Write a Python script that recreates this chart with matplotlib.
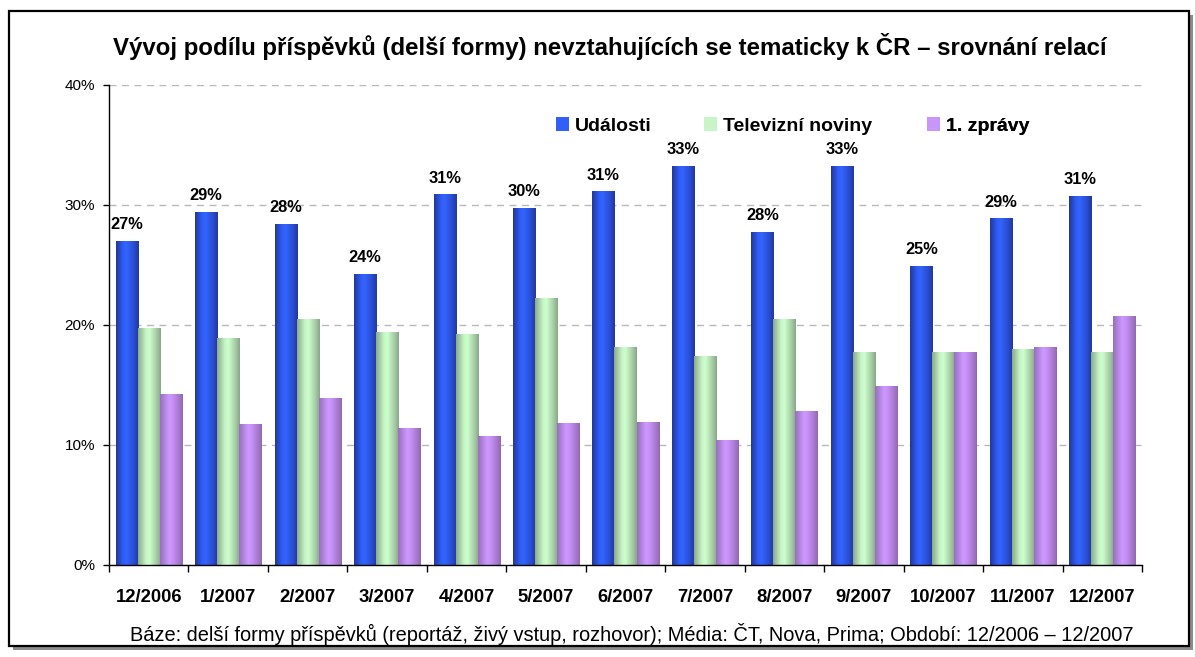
import numpy as np
import matplotlib
matplotlib.use('Agg')
import matplotlib.pyplot as plt
from matplotlib.colors import to_rgb
from matplotlib.patches import Rectangle, Patch

plt.rcParams['font.family'] = ['Liberation Sans', 'DejaVu Sans']

# ---------------- data ----------------
categories = ['12/2006', '1/2007', '2/2007', '3/2007', '4/2007', '5/2007', '6/2007',
              '7/2007', '8/2007', '9/2007', '10/2007', '11/2007', '12/2007']
udalosti = [27.0, 29.4, 28.4, 24.2, 30.85, 29.75, 31.1, 33.2, 27.75, 33.2, 24.9, 28.85, 30.75]
televizni_noviny = [19.7, 18.85, 20.5, 19.4, 19.2, 22.25, 18.1, 17.4, 20.5, 17.75, 17.75, 18.0, 17.7]
prvni_zpravy = [14.2, 11.7, 13.85, 11.4, 10.75, 11.8, 11.9, 10.4, 12.8, 14.9, 17.75, 18.1, 20.75]
series_names = ['Události', 'Televizní noviny', '1. zprávy']
yticks = [0, 10, 20, 30, 40]
ytick_labels = ['0%', '10%', '20%', '30%', '40%']
title = 'Vývoj podílu příspěvků (delší formy) nevztahujících se tematicky k ČR – srovnání relací'
footer = 'Báze: delší formy příspěvků (reportáž, živý vstup, rozhovor); Média: ČT, Nova, Prima; Období: 12/2006 – 12/2007'

# ---------------- styles ----------------
W, H = 1195, 657
mid_colors = ['#3060f8', '#c8f5c8', '#c896f8']
grad_stops = [
    [(0.0, '#22389a'), (0.3, '#2f5cf5'), (0.45, '#3366ff'), (0.75, '#2c4fd8'), (1.0, '#213a9c')],
    [(0.0, '#8aab8a'), (0.35, '#c8f5c8'), (0.5, '#ccffcc'), (0.8, '#a8cca8'), (1.0, '#88a888')],
    [(0.0, '#9870bc'), (0.4, '#cc99ff'), (0.55, '#c890f8'), (0.85, '#a478c8'), (1.0, '#9468b0')],
]


def make_grad(stops, n=64):
    pos = np.array([s[0] for s in stops])
    cols = np.array([to_rgb(s[1]) for s in stops])
    t = np.linspace(0, 1, n)
    return np.stack([np.interp(t, pos, cols[:, c]) for c in range(3)], axis=-1)


fig = plt.figure(figsize=(W / 100, H / 100), dpi=100)

# frame with shadow
fx0, fy0, fx1, fy1 = 9, 11, 1189, 646
fig.add_artist(Rectangle(((fx0 + 4) / W, 1 - (fy1 + 4) / H), (fx1 - fx0) / W, (fy1 - fy0) / H,
                         transform=fig.transFigure, facecolor='#8c8c8c', edgecolor='none', zorder=-3))
fig.add_artist(Rectangle((fx0 / W, 1 - fy1 / H), (fx1 - fx0) / W, (fy1 - fy0) / H,
                         transform=fig.transFigure, facecolor='white', edgecolor='black',
                         linewidth=1.6, zorder=-2))

ax_l, ax_r, ax_t, ax_b = 109, 1142, 85, 565
ax = fig.add_axes([ax_l / W, 1 - ax_b / H, (ax_r - ax_l) / W, (ax_b - ax_t) / H])
ax.patch.set_alpha(0)

x = np.arange(len(categories))
bw = 0.277
all_series = [udalosti, televizni_noviny, prvni_zpravy]
bar_containers = []
for i, vals in enumerate(all_series):
    bars = ax.bar(x + (i - 1) * bw, vals, bw, color=mid_colors[i], linewidth=0, zorder=3)
    bar_containers.append(bars)
    g = make_grad(grad_stops[i])[np.newaxis, :, :]
    for p in bars:
        ax.imshow(g, extent=[p.get_x(), p.get_x() + p.get_width(), 0, p.get_height()],
                  aspect='auto', zorder=3.5, interpolation='bilinear')

ax.set_xlim(-0.5, len(categories) - 0.5)
ax.set_ylim(0, 40)

# grid
ax.yaxis.grid(True, linestyle=(0, (5, 4)), color='#b8b8b8', linewidth=1)
ax.set_axisbelow(True)
for s in ['top', 'right']:
    ax.spines[s].set_visible(False)
for s in ['left', 'bottom']:
    ax.spines[s].set_color('black')
    ax.spines[s].set_linewidth(1)
    ax.spines[s].set_zorder(5)

ax.set_yticks(yticks)
ax.set_yticklabels(ytick_labels)
ax.tick_params(axis='y', direction='out', length=4, width=1, pad=6, labelsize=11)

ax.set_xticks(x)
ax.set_xticklabels(categories, fontweight='bold')
ax.tick_params(axis='x', which='major', length=0, pad=17.5, labelsize=13.3)
ax.set_xticks(np.arange(-0.5, len(categories), 1), minor=True)
ax.tick_params(axis='x', which='minor', direction='out', length=5, width=1)

# data labels on first series
for p, v in zip(bar_containers[0], udalosti):
    ax.annotate(f'{v:.0f}%', (p.get_x() + p.get_width() / 2, v), xytext=(0, 12),
                textcoords='offset points', ha='center', va='center',
                fontweight='bold', fontsize=11.8, zorder=6)

# legend entries
leg_x = [556, 704, 927]
leg_y = 126
for i, name in enumerate(series_names):
    leg = ax.legend([Patch(facecolor=mid_colors[i], edgecolor='none')], [name],
                    loc='center left', bbox_to_anchor=(leg_x[i] / W, 1 - leg_y / H),
                    bbox_transform=fig.transFigure, frameon=False, borderpad=0,
                    borderaxespad=0, handlelength=0.67, handleheight=0.67, handletextpad=0.3,
                    prop={'weight': 'bold', 'size': 14})
    ax.add_artist(leg)

fig.text(610 / W, 1 - 47 / H, title, ha='center', va='center', fontsize=17.3, fontweight='bold')
fig.text(632 / W, 1 - 634 / H, footer, ha='center', va='center', fontsize=14.4)

fig.savefig('out.png', dpi=100)
